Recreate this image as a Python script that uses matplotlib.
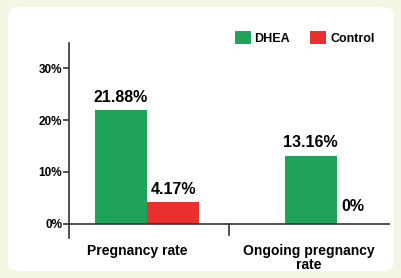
import matplotlib.pyplot as plt
import numpy as np
from matplotlib.patches import FancyBboxPatch

categories = ["Pregnancy rate", "Ongoing pregnancy\nrate"]
dhea = [21.88, 13.16]
control = [4.17, 0]
dhea_labels = ["21.88%", "13.16%"]
control_labels = ["4.17%", "0%"]
yticks = [0, 10, 20, 30]
ytick_labels = ["0%", "10%", "20%", "30%"]

green = "#1fa35a"
red = "#e8302f"

plt.rcParams['font.family'] = ['Liberation Sans', 'DejaVu Sans']
plt.rcParams['font.weight'] = 'bold'

fig = plt.figure(figsize=(4.02, 2.78), dpi=100)
fig.patch.set_facecolor('#f3f6e2')
bg = FancyBboxPatch((0.02, 0.025), 0.96, 0.95, boxstyle="round,pad=0,rounding_size=0.03",
                    transform=fig.transFigure, facecolor='white', edgecolor='none', zorder=-10)
fig.add_artist(bg)

ax = fig.add_axes([0.172, 0.144, 0.798, 0.701])
ax.set_facecolor('none')

x = np.arange(len(categories))
w = 0.275
ax.bar(x - w / 2, dhea, w, color=green, label="DHEA")
ax.bar(x + w / 2, control, w, color=red, label="Control")

ctrl_offsets = [(0, 4), (-7, 7)]
for i in range(len(categories)):
    ax.annotate(dhea_labels[i], (x[i] - w / 2, dhea[i]), xytext=(0, 4), textcoords='offset points',
                ha='center', va='bottom', fontsize=11.5, fontweight='bold')
    ax.annotate(control_labels[i], (x[i] + w / 2, control[i]), xytext=ctrl_offsets[i], textcoords='offset points',
                ha='center', va='bottom', fontsize=11.5, fontweight='bold')

ax.set_xlim(-0.41, 1.28)
ax.set_ylim(-2.7, 34.8)
ax.axhline(0, color='#333333', lw=1.2)
ax.plot([0.43, 0.43], [0, -2.2], color='#333333', lw=1.2, clip_on=False)

for s in ['top', 'right', 'bottom']:
    ax.spines[s].set_visible(False)
ax.spines['left'].set_color('#333333')
ax.spines['left'].set_linewidth(1.2)

ax.set_yticks(yticks)
ax.set_yticklabels(ytick_labels, fontsize=8.5, fontweight='bold')
ax.tick_params(axis='y', length=4, width=1.2, color='#333333', pad=1)
ax.set_xticks([-0.05, 0.85])
ax.set_xticklabels(categories, fontsize=10, fontweight='bold', linespacing=1.05)
ax.tick_params(axis='x', length=0, pad=4)

ax.legend(loc='upper left', bbox_to_anchor=(0.5, 1.09), ncol=2, frameon=False,
          handlelength=1.3, handleheight=1.3, columnspacing=1.6, handletextpad=0.3,
          borderaxespad=0, prop={'weight': 'bold', 'size': 9})

fig.savefig('out.png', dpi=100, facecolor=fig.get_facecolor())
